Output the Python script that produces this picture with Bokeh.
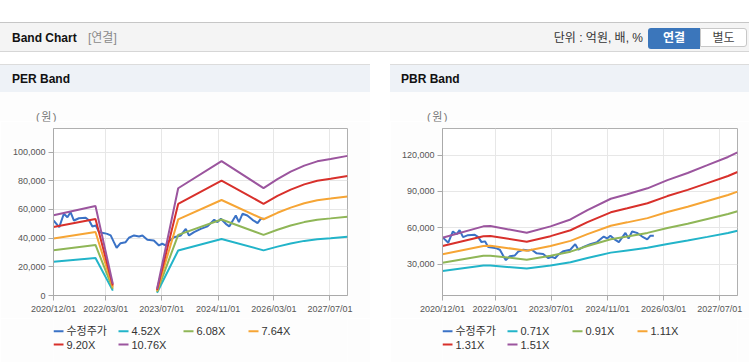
import pandas as pd
from bokeh.plotting import figure
from bokeh.models import (Div, Spacer, Range1d, FixedTicker, NumeralTickFormatter,
                          DatetimeTickFormatter, ColumnDataSource)
from bokeh.core.properties import value
from bokeh.layouts import column, row
from bokeh.embed import file_html
from bokeh.resources import INLINE

NAN = float("nan")

# ---------------- data ----------------
x_tick_dates = ["2020-12-01", "2022-03-01", "2023-07-01", "2024-11-01", "2026-03-01", "2027-07-01"]
x_start, x_end = "2020-12-01", "2027-12-01"

price_dates = ["2020-12-01", "2021-01-20", "2021-03-01", "2021-04-01", "2021-04-28", "2021-05-28",
               "2021-07-10", "2021-09-07", "2021-10-07", "2021-11-04", "2021-12-04", "2022-01-01",
               "2022-02-15", "2022-03-13", "2022-04-12", "2022-05-10", "2022-06-03", "2022-07-07",
               "2022-08-20", "2022-09-18", "2022-11-01", "2022-12-15", "2023-01-13", "2023-02-25",
               "2023-04-22", "2023-06-06", "2023-07-04", "2023-08-03", "2023-09-01", "2023-10-15",
               "2023-12-13", "2024-01-25", "2024-02-22", "2024-04-06", "2024-06-03", "2024-08-01",
               "2024-09-28", "2024-10-27", "2024-11-25", "2025-01-07", "2025-02-06", "2025-04-04",
               "2025-05-01", "2025-06-01", "2025-07-13", "2025-08-27", "2025-10-10", "2025-11-07",
               "2025-12-06"]
price_values = [52300, 47700, 57000, 54600, 58100, 52300, 53900, 54200, 52300, 48200,
                48800, 44200, 43500, 43000, 41900, 37200, 33300, 36500, 37200, 40300,
                41900, 41200, 41900, 38900, 38400, 34900, 36100, 34900, 37900, 40700,
                41900, 46500, 41900, 44200, 46500, 48200, 52800, 51200, 53500, 50000,
                48200, 55800, 51200, 57000, 55800, 52800, 50500, 53500, 53500]

per_labels = ["4.52X", "6.08X", "7.64X", "9.20X", "10.76X"]
per_dates = ["2020-12-01", "2021-12-01", "2022-05-01", "2022-12-01", "2023-05-20", "2023-11-20",
             "2024-12-01", "2025-12-01", "2026-04-01", "2026-07-25", "2026-11-20", "2027-03-13",
             "2027-07-07", "2027-12-01"]
per_452 = [23500, 26200, 3400, NAN, 1900, 31400, 39400, 31500, 34100, 36300, 38100, 39300, 40000, 40900]
per_608 = [31600, 35300, 4600, NAN, 2550, 42300, 53000, 42300, 45900, 48800, 51200, 52900, 53800, 55000]
per_764 = [39700, 44300, 5700, NAN, 3200, 53100, 66600, 53200, 57700, 61300, 64300, 66500, 67600, 69100]
per_920 = [47800, 53400, 6900, NAN, 3850, 63900, 80200, 64000, 69500, 73900, 77500, 80000, 81400, 83300]
per_1076 = [56000, 62400, 8100, NAN, 4500, 74800, 93800, 74900, 81200, 86400, 90600, 93600, 95200, 97400]
per_y_ticks = [0, 20000, 40000, 60000, 80000, 100000]

pbr_labels = ["0.71X", "0.91X", "1.11X", "1.31X", "1.51X"]
pbr_dates = ["2020-12-01", "2021-11-20", "2022-01-20", "2022-12-01", "2023-06-25", "2023-12-15",
             "2024-05-10", "2024-11-28", "2025-04-20", "2025-10-12", "2026-04-03", "2026-09-25",
             "2027-03-15", "2027-09-10", "2027-12-01"]
pbr_071 = [24400, 28800, 28900, 26300, 28800, 31500, 35100, 39500, 41300, 43500, 46700, 49500, 52500, 55700, 57500]
pbr_091 = [31200, 36900, 37000, 33700, 36900, 40300, 45000, 50600, 52900, 55800, 59900, 63400, 67300, 71400, 73700]
pbr_111 = [38100, 45000, 45200, 41100, 45000, 49200, 54800, 61700, 64500, 68000, 73000, 77400, 82100, 87100, 89900]
pbr_131 = [44900, 53100, 53300, 48500, 53100, 58000, 64700, 72800, 76100, 80300, 86200, 91300, 96900, 102800, 106100]
pbr_151 = [51800, 61200, 61500, 55900, 61200, 66900, 74600, 84000, 87700, 92600, 99400, 105300, 111700, 118500, 122300]
pbr_y_ticks = [30000, 60000, 90000, 120000]

price_label = "수정주가"
band_colors = ["#22b4c9", "#8fb657", "#f6a535", "#d8302b", "#9b559e"]
price_color = "#3a72c6"

FONT = "Liberation Sans, Noto Sans CJK KR"
BODY_BG = "#fdfdfd"


def to_dt(lst):
    return pd.to_datetime(pd.Series(lst))


def make_chart(width, height, left, right, top, bottom, y0, y1, yticks, band_dates, bands):
    p = figure(width=width, height=height, x_axis_type="datetime",
               output_backend="svg", toolbar_location=None,
               x_range=Range1d(pd.Timestamp(x_start), pd.Timestamp(x_end)),
               y_range=Range1d(y0, y1),
               min_border_left=left, min_border_right=right,
               min_border_top=top, min_border_bottom=bottom)
    p.background_fill_color = "white"
    p.border_fill_color = BODY_BG
    p.outline_line_color = "#b0b0b0"
    p.outline_line_width = 1

    tick_ms = [int(pd.Timestamp(d).value // 10**6) for d in x_tick_dates]
    p.xaxis.ticker = FixedTicker(ticks=tick_ms)
    fmt = "%Y/%m/%d"
    p.xaxis.formatter = DatetimeTickFormatter(milliseconds=fmt, seconds=fmt, minsec=fmt, minutes=fmt,
                                              hourmin=fmt, hours=fmt, days=fmt, months=fmt, years=fmt)
    p.yaxis.ticker = FixedTicker(ticks=yticks)
    p.yaxis.formatter = NumeralTickFormatter(format="0,0")

    for ax in (p.xaxis[0], p.yaxis[0]):
        ax.axis_line_color = "#aaaaaa"
        ax.major_tick_line_color = "#aaaaaa"
        ax.minor_tick_line_color = None
        ax.major_tick_in = 0
        ax.major_tick_out = 5
        ax.major_label_text_font = FONT
        ax.major_label_text_font_size = "9px"
        ax.major_label_text_color = "#555555"
    p.xaxis.major_label_standoff = 3
    p.yaxis.major_label_standoff = 3
    p.grid.grid_line_color = "#e7e7e7"

    p.line(to_dt(price_dates), price_values, line_color=price_color, line_width=2)
    bd = to_dt(band_dates)
    for vals, col in zip(bands, band_colors):
        p.line(bd, vals, line_color=col, line_width=2)
    return p


def make_legend_fig(width, left, right, labels):
    # legend strip; its frame lines up with the chart frame above, units are pixels
    fw = width - left - right
    lf = figure(width=width, height=44, output_backend="svg", toolbar_location=None,
                x_range=Range1d(0, fw), y_range=Range1d(44, 0),
                x_axis_location=None, y_axis_location=None,
                min_border_left=left, min_border_right=right,
                min_border_top=0, min_border_bottom=0)
    lf.grid.visible = False
    lf.outline_line_color = None
    lf.background_fill_color = BODY_BG
    lf.border_fill_color = BODY_BG
    names = [price_label] + labels
    colors = [price_color] + band_colors
    pitch, row_h, row0 = 65, 13.3, 12.7
    gx = [(i % 4) * pitch for i in range(len(names))]
    gy = [row0 + (i // 4) * row_h for i in range(len(names))]
    src = ColumnDataSource(dict(x0=gx, x1=[g + 10 for g in gx], y=gy,
                                tx=[g + 13 for g in gx], name=names, color=colors))
    lf.segment(x0="x0", y0="y", x1="x1", y1="y", line_color="color", line_width=2, source=src)
    lf.text(x="tx", y="y", text="name", source=src, text_baseline="middle", text_align="left",
            text_font=value(FONT), text_font_size="11px", text_color="#333333")
    return lf


def panel_header(width, title, unit_left, title_left):
    html = (
        f'<div style="position:relative;width:{width}px;height:57px;background:{BODY_BG};'
        f'font-family:\'Liberation Sans\',\'Noto Sans CJK KR\',sans-serif;">'
        f'<div style="position:absolute;left:0;top:0;width:{width}px;height:28px;'
        f'background:#eef2f7;border-top:1px solid #dcdcdc;">'
        f'<span style="position:absolute;left:{title_left}px;top:0;line-height:28px;'
        f'font-size:12px;font-weight:bold;color:#111;">{title}</span></div>'
        f'<span style="position:absolute;left:{unit_left}px;top:46px;line-height:14px;'
        f'font-size:11px;letter-spacing:1.5px;color:#777;">(원)</span></div>'
    )
    return Div(text=html, width=width, height=57, margin=0)


def bottom_line(width):
    return Div(text=f'<div style="width:{width}px;height:1px;background:#dcdcdc;"></div>',
               width=width, height=1, margin=0)


header_html = (
    '<div style="position:relative;width:749px;height:64px;background:#fff;'
    'font-family:\'Liberation Sans\',\'Noto Sans CJK KR\',sans-serif;">'
    '<div style="position:absolute;left:0;top:22px;width:749px;height:30px;background:#f4f4f4;'
    'border-top:1px solid #c6c6c6;border-bottom:1px solid #d6d6d6;">'
    '<span style="position:absolute;left:12px;top:0;line-height:30px;font-size:12px;'
    'font-weight:bold;color:#111;">Band Chart</span>'
    '<span style="position:absolute;left:88px;top:0;line-height:30px;font-size:12px;'
    'color:#8a8a8a;">[연결]</span>'
    '<span style="position:absolute;right:106px;top:0;line-height:30px;font-size:12px;'
    'color:#333;">단위 : 억원, 배, %</span>'
    '<div style="position:absolute;left:648px;top:5px;width:52px;height:21px;background:#3b76bb;'
    'border-radius:3px 0 0 3px;color:#fff;font-weight:bold;font-size:12px;text-align:center;'
    'line-height:21px;">연결</div>'
    '<div style="position:absolute;left:700px;top:5px;width:47px;height:19px;background:#fff;'
    'border:1px solid #c8c8c8;border-radius:0 3px 3px 0;color:#444;font-size:12px;'
    'text-align:center;line-height:19px;">별도</div>'
    '</div></div>'
)
header = Div(text=header_html, width=749, height=64, margin=0)

per_fig = make_chart(370, 197, 53, 23, 7, 23, 0, 116500, per_y_ticks,
                     per_dates, [per_452, per_608, per_764, per_920, per_1076])
pbr_fig = make_chart(359, 197, 52, 12, 7, 23, 4100, 142000, pbr_y_ticks,
                     pbr_dates, [pbr_071, pbr_091, pbr_111, pbr_131, pbr_151])

per_panel = column(panel_header(370, "PER Band", 36, 12), per_fig,
                   make_legend_fig(370, 53, 23, per_labels), bottom_line(370), spacing=0)
pbr_panel = column(panel_header(359, "PBR Band", 37, 11), pbr_fig,
                   make_legend_fig(359, 52, 12, pbr_labels), bottom_line(359), spacing=0)

layout = column(header, row(per_panel, Spacer(width=20, height=299, margin=0), pbr_panel, spacing=0),
                spacing=0)

open("out.html", "w").write(file_html(layout, INLINE))
